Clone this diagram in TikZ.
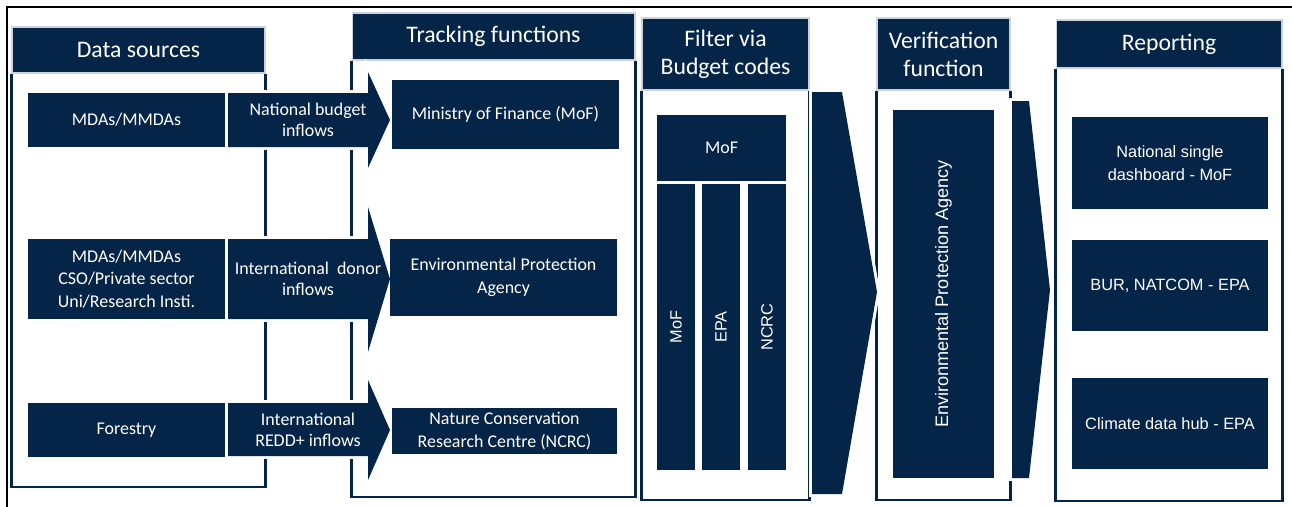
\documentclass[tikz,border=0pt]{standalone}
\usepackage{fontspec}
\setmainfont{Carlito}
\newfontfamily\arialfont{Liberation Sans}
\definecolor{navy}{HTML}{052548}
\definecolor{rim}{HTML}{CDD3DC}

\begin{document}
\begin{tikzpicture}[x = 0.02cm, y = -0.02cm,
	panel/.style = {draw = navy, line width = 1.4pt},
	hdr/.style = {fill = navy, draw = rim, line width = 0.6pt, text = white, align = center, inner sep = 0pt, font = \fontsize{13.5}{16}\selectfont},
	cell/.style = {fill = navy, text = white, align = center, inner sep = 0pt, font = \fontsize{10.2}{12.8}\selectfont},
	rcell/.style = {cell, font = \arialfont\fontsize{9.3}{13}\selectfont},
	bar/.style = {rcell, rotate = 90},
	flow/.style = {fill = navy, preaction = {draw = white, line width = 3.4pt, line join = miter}},
	flowtext/.style = {text = white, align = center, inner sep = 0pt, font = \fontsize{10.2}{12.3}\selectfont}]

	\useasboundingbox (0, 0) rectangle (1292, 507);
	\fill [white] (0, 0) rectangle (1292, 507);

	% Outer frame

	\draw [line width = 1.7pt] (7, 507) -- (7, 7) -- (1292, 7);

	% Column headers

	\node [hdr, minimum width = 5.06cm, minimum height = 0.92cm] (h1) at (138.5, 50) {Data sources};
	\node [hdr, minimum width = 5.66cm, minimum height = 0.94cm] (h2) at (493.5, 36.5) {Tracking functions};
	\node [hdr, minimum width = 3.34cm, minimum height = 1.44cm] (h3) at (725.5, 54) {Filter via\\Budget codes};
	\node [hdr, minimum width = 2.66cm, minimum height = 1.44cm] (h4) at (943.5, 54) {Verification\\function};
	\node [hdr, minimum width = 4.52cm, minimum height = 0.96cm] (h5) at (1169, 44) {Reporting};

	% Column frames

	\draw [panel] (h1.south west) -- (h1.south west |- 0, 487) -- (h1.south east |- 0, 487) -- (h1.south east);
	\draw [panel] (h2.south west) -- (h2.south west |- 0, 497) -- (h2.south east |- 0, 497) -- (h2.south east);
	\draw [panel] (h3.south west) -- (h3.south west |- 0, 500) -- (h3.south east |- 0, 500) -- (h3.south east);
	\draw [panel] (h4.south west) -- (h4.south west |- 0, 500) -- (h4.south east |- 0, 500) -- (h4.south east);
	\draw [panel] (h5.south west) -- (h5.south west |- 0, 501) -- (h5.south east |- 0, 501) -- (h5.south east);

	% Data sources

	\node [cell, minimum width = 3.94cm, minimum height = 1.08cm] (s1) at (126.5, 120) {MDAs/MMDAs};
	\node [cell, minimum width = 3.94cm, minimum height = 1.6cm] (s2) at (126.5, 279) {MDAs/MMDAs\\CSO/Private sector\\Uni/Research Insti.};
	\node [cell, minimum width = 3.94cm, minimum height = 1.08cm] (s3) at (126.5, 430) {Forestry};

	% Inflow arrows

	\fill [flow] (228, 93) -- (368, 93) -- (368, 72) -- (390, 120) -- (368, 168) -- (368, 147) -- (228, 147) -- cycle;
	\fill [flow] (228, 239) -- (368, 239) -- (368, 207) -- (390, 279) -- (368, 352) -- (368, 319) -- (228, 319) -- cycle;
	\fill [flow] (228, 403) -- (368, 403) -- (368, 380) -- (390, 430) -- (368, 480) -- (368, 456) -- (228, 456) -- cycle;

	\node [flowtext] (a1) at (308, 120) {National budget\\inflows};
	\node [flowtext] (a2) at (308, 279) {International\ \ donor\\inflows};
	\node [flowtext] (a3) at (308, 430) {International\\REDD+ inflows};

	% Tracking functions

	\node [cell, minimum width = 4.54cm, minimum height = 1.38cm] (t1) at (505.5, 114.5) {Ministry of Finance (MoF)};
	\node [cell, minimum width = 4.54cm, minimum height = 1.54cm] (t2) at (503.5, 277.5) {Environmental Protection\\Agency};
	\node [cell, minimum width = 4.5cm, minimum height = 0.92cm] (t3) at (504.5, 431) {Nature Conservation\\Research Centre (NCRC)};

	% Filter via budget codes

	\node [cell, minimum width = 2.58cm, minimum height = 1.32cm] (f0) at (721.5, 148) {MoF};
	\node [bar, minimum width = 5.72cm, minimum height = 0.76cm] (f1) at (676, 327) {MoF};
	\node [bar, minimum width = 5.72cm, minimum height = 0.76cm] (f2) at (721, 327) {EPA};
	\node [bar, minimum width = 5.72cm, minimum height = 0.76cm] (f3) at (767, 327) {NCRC};

	\fill [flow] (812, 92) -- (842, 92) -- (877, 292) -- (842, 494) -- (812, 494) -- cycle;

	% Verification

	\node [bar, font = \arialfont\fontsize{10.3}{12}\selectfont, minimum width = 7.36cm, minimum height = 2.02cm] (v1) at (943.5, 294) {Environmental Protection Agency};

	\fill [flow] (1012, 101) -- (1029, 101) -- (1050, 290) -- (1029, 478) -- (1012, 478) -- cycle;

	% Reporting

	\node [rcell, minimum width = 3.92cm, minimum height = 1.84cm] (r1) at (1170, 163) {National single\\dashboard - MoF};
	\node [rcell, minimum width = 3.92cm, minimum height = 1.82cm] (r2) at (1170, 285.5) {BUR, NATCOM - EPA};
	\node [rcell, minimum width = 3.92cm, minimum height = 1.82cm] (r3) at (1170, 423.5) {Climate data hub - EPA};

\end{tikzpicture}
\end{document}
